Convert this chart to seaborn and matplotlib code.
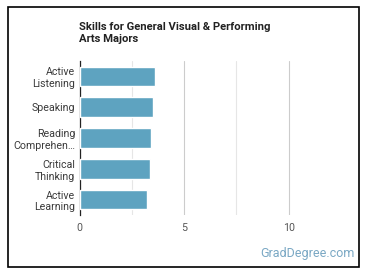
import matplotlib
matplotlib.use("Agg")
import matplotlib.pyplot as plt
import seaborn as sns
import pandas as pd
from matplotlib.patches import Rectangle

skills = ["Active\nListening", "Speaking", "Reading\nComprehen\u2026", "Critical\nThinking", "Active\nLearning"]
scores = [3.63, 3.53, 3.41, 3.39, 3.25]

sns.set_style("white")
plt.rcParams['font.family'] = ['Roboto', 'DejaVu Sans']

df = pd.DataFrame({"skill": skills, "score": scores})

fig = plt.figure(figsize=(3.7, 2.78), dpi=100)
ax = fig.add_axes([0.2149, 0.2266, 0.7064, 0.554])

sns.barplot(data=df, x="score", y="skill", orient="h", color="#5ea3c0",
            saturation=1, width=0.63, ax=ax, zorder=3)

ax.set_xlim(0, 12.5)
ax.set_xticks([0, 5, 10])
ax.set_xticks([2.5, 7.5], minor=True)
ax.grid(axis="x", which="major", color="#cccccc", linewidth=0.8, zorder=0)
ax.grid(axis="x", which="minor", color="#e6e6e6", linewidth=0.8, zorder=0)
ax.set_xlabel("")
ax.set_ylabel("")
for s in ["top", "right", "bottom"]:
    ax.spines[s].set_visible(False)
ax.spines["left"].set_color("#222222")
ax.spines["left"].set_linewidth(0.9)
ax.tick_params(axis="both", which="both", length=0)
ax.tick_params(axis="y", labelsize=7.7, labelcolor="#3a3a3a", pad=3)
ax.tick_params(axis="x", labelsize=7.7, labelcolor="#555555", pad=6)
for lbl in ax.get_yticklabels():
    lbl.set_linespacing(1.22)

fig.text(79 / 370, 1 - 21.5 / 278, "Skills for General Visual & Performing\nArts Majors",
         fontsize=8.1, fontweight="bold", color="#222222", ha="left", va="top",
         linespacing=1.3)
fig.text(355 / 370, 1 - 254 / 278, "GradDegree.com", fontsize=9,
         color="#7aa8c4", ha="right", va="center")

fig.add_artist(Rectangle((8 / 370, 1 - 267 / 278), 351 / 370, 260 / 278,
                         transform=fig.transFigure, fill=False,
                         edgecolor="black", linewidth=1.2))

fig.savefig("out.png", dpi=100)
